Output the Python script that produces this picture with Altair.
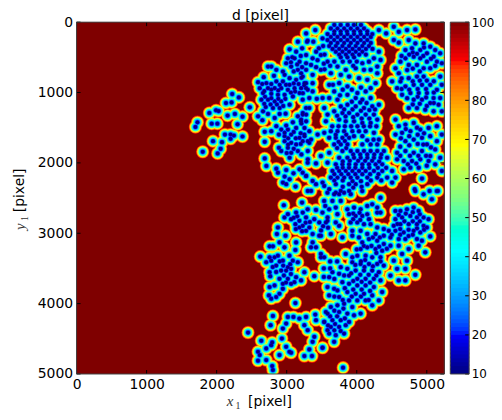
import altair as alt
import pandas as pd

W, H = 370, 354
X_MAX, Y_MAX = 5250, 5000

particle_x = [2222,2317,2133,2213,2473,1896,1991,2028,2156,2260,2369,1726,1697,1929,2010,2298,2118,2199,2246,2199,2369,1948,2076,2057,2014,1801,
3041,3159,3277,3291,3135,3220,3277,3017,3112,2993,3183,3277,3064,3159,3277,2946,2780,2852,2733,3206,2672,2818,2970,3041,3135,3254,2591,2710,2852,2946,3041,2615,2733,2828,2922,3017,3112,3206,3277,2662,2780,2875,2970,3088,3183,2639,2733,2828,2922,3041,3277,2700,2804,2899,3230,2591,2662,2733,2828,2899,2984,3159,3277,2653,
2852,2993,3088,3206,3277,2686,2780,2922,3017,3135,3254,2889,2970,3064,3183,3254,2686,2970,3064,3135,2889,3017,2922,3064,3159,3301,3301,2686,3041,3301,2710,2852,2993,3183,3277,2875,3097,2970,3041,2946,2993,3126,3301,
3408,3380,3299,3512,3488,3370,3347,3488,3583,
3630,3725,3820,3914,4009,4103,3583,3678,3772,3867,3961,4056,4151,4222,3583,3678,3772,3867,3961,4056,4151,3607,3701,3796,3891,3985,4080,4174,3701,3796,3891,3985,4080,3772,3867,3961,
4316,4245,4340,4080,4174,4293,3985,4103,4198,4293,3843,3725,3630,3772,3891,4032,4151,4269,4198,
4316,4420,4529,4600,4718,4837,4529,4600,4742,4837,4955,5049,5120,5191,4789,4907,5002,5097,4695,4695,4813,4907,5002,5144,5215,4624,4553,4600,4742,4860,4955,5049,4505,4624,4742,4860,4955,5191,5215,4576,4695,4813,4931,5049,5144,4647,4766,4884,5002,5097,5191,4813,4931,5049,5168,5215,4742,4860,4978,5097,
4553,4600,4695,4813,4647,4766,4907,5026,5144,5215,4553,4695,4813,4931,5049,5144,5002,5120,5191,4576,4695,4813,4931,5049,4576,4671,4789,4907,5026,4766,4671,4884,5120,5215,4931,4827,5040,5158,
3607,3749,3867,4009,4127,4198,3985,4080,3867,3678,3607,3725,3512,3370,3323,
4316,4222,4103,3985,3867,3772,3678,3796,3891,4009,4127,4245,3749,3843,3961,4080,4198,4293,
3370,3228,3276,3370,3228,3323,3228,3205,3536,3583,3559,3323,3441,3536,3252,3347,3228,
3630,3725,3820,3938,4032,3607,3701,3796,3891,3678,3772,3867,4080,4198,4293,3796,3914,4009,4103,4198,4293,4387,3749,3867,3961,4056,4151,4245,4340,4434,3701,3796,3891,3985,4080,4174,4269,4364,3654,3749,3843,3938,4032,4127,4245,4364,4505,3630,3725,3820,3914,4009,4151,4293,4434,4553,3701,3891,3985,4151,4505,3772,3891,4127,4245,4316,4080,
3323,3299,3418,3488,3276,3370,3418,3512,3347,3536,3607,3678,3228,3607,3583,3749,3914,
2959,3219,3418,3550,3016,3134,3229,3299,3583,2968,3063,3181,3276,3394,3465,3124,3229,3323,3181,3276,3370,3560,2874,2860,2983,3465,3370,3418,3347,3489,3134,2897,2803,2756,2968,3124,2623,2756,2826,2874,3039,2708,2779,2945,3087,3158,2850,3016,3063,2756,2921,2992,3252,3394,2765,2897,3016,3134,3205,2945,3063,3110,2756,2826,2945,2746,2897,2779,2850,3124,2803,3016,3096,3181,3276,3408,3418,2992,2945,3252,3299,2770,3536,3583,3583,2448,2637,2793,2779,2931,2590,2708,2614,2992,3039,3063,3394,3370,3323,2897,3252,3361,3512,2590,2708,2793,2803,
3582,3701,3819,4079,4339,4836,4954,5072,5143,3606,3700,3535,3653,3771,3511,3724,3582,3700,3748,3630,3488,3795,3488,3535,3866,3961,4055,4150,4221,4292,4292,4339,3890,3984,4079,4174,3913,4008,4103,4197,3937,4055,3937,4032,4552,4623,4717,4812,4883,4954,5025,4552,4647,4765,4859,4528,4623,4741,4859,4954,5001,4457,4552,4670,4812,4907,5049,4292,4386,4268,4386,4481,4599,4694,4859,4930,4978,4883,4079,4174,4292,4386,4481,4599,4055,4150,4268,4363,4741,4008,4126,4221,4339,3937,3842,4528,4647,4717,3937,4055,4174,4292,4386,4576,4694,4836,3771,3866,3653,3984,4103,4221,4315,4481,4599,4694,3606,3748,3890,4008,4126,4244,4339,3582,3677,3795,3890,4008,4126,4244,4363,3724,3606,3866,3984,4103,4221,4315,3748,3890,4008,4126,4221,3630,3724,3819,3937,4055,3559,3748,3866,3961,3535,3653,3771,3890,3630,3748,3842,3606,3700,3819,3677,3511,3805]

particle_y = [1022,1069,1150,1140,1211,1291,1253,1263,1328,1305,1343,1423,1489,1442,1442,1451,1597,1597,1611,1658,1625,1691,1705,1800,1865,1842,
386,278,160,278,419,372,467,514,514,584,561,584,631,678,678,702,631,678,631,726,782,763,749,796,820,867,853,867,843,843,890,938,938,938,938,961,938,938,938,1008,1018,1032,1032,1055,1008,1102,1102,1126,1126,1173,1220,1206,1220,1220,1291,1338,1267,1305,1361,1305,1300,1338,1314,1394,
1479,1470,1423,1385,1409,1559,1550,1526,1526,1503,1503,1597,1620,1597,1644,1620,1700,1691,1715,1738,1785,1785,1832,1856,1832,1691,1832,1936,1927,1950,2044,2082,2101,2092,2186,2139,2148,2195,2233,2280,2303,2336,2398,
113,278,264,231,467,514,608,678,561,
90,90,90,90,90,90,170,170,170,170,170,170,170,170,255,255,255,255,255,255,255,339,339,339,339,339,339,339,419,419,419,419,419,500,500,500,
419,514,537,584,561,631,655,678,678,726,678,631,726,749,773,796,820,867,938,
113,160,66,137,113,104,255,292,255,302,302,349,396,443,372,396,443,490,396,514,490,514,561,561,584,561,655,726,608,608,655,655,843,843,796,773,773,773,890,938,914,890,890,890,961,1032,1008,1008,1008,1079,1079,1102,1102,1150,1173,1267,1220,1220,1244,1267,
1385,1479,1456,1432,1573,1550,1526,1503,1479,1597,1597,1691,1668,1644,1620,1691,1738,1809,1927,1856,1832,1856,1832,1903,1950,1974,1974,1950,1974,2068,2092,2068,2021,2115,2223,2374,2398,2398,
890,867,914,1008,985,1079,1079,1102,1032,985,1079,1102,1079,985,1079,
1173,1197,1220,1197,1173,1197,1267,1291,1291,1314,1314,1314,1385,1409,1409,1432,1432,1385,
749,773,867,867,1102,1220,1314,1409,1220,1314,1409,1550,1597,1573,1597,1668,1691,
1550,1550,1550,1550,1550,1644,1644,1644,1644,1738,1738,1738,1738,1738,1738,1832,1832,1832,1832,1832,1832,1832,1927,1927,1927,1927,1927,1927,1927,1927,2021,2021,2021,2021,2021,2021,2021,2021,2115,2115,2115,2115,2115,2115,2115,2115,2115,2209,2209,2209,2209,2209,2209,2209,2209,2209,2303,2303,2303,2303,2280,2398,2398,1550,1573,1668,1620,
1715,1997,2007,1903,2186,2256,2303,2280,2398,2327,2374,2445,2139,1856,1997,2445,2445,
2602,2564,2668,2612,2729,2706,2706,2659,2776,2776,2800,2823,2776,2800,2847,2871,2894,2918,2918,2965,3012,2847,2918,3012,3035,3035,3130,3200,3200,3342,3130,3130,3186,3186,3200,3238,3332,3342,3342,3318,3318,3412,3389,3389,3389,3412,3459,3483,3506,3554,3530,3530,3554,3610,3610,3648,3648,3624,3671,3718,3718,3695,3765,3742,3789,3883,3860,3930,3907,3992,4175,4189,4189,4213,4189,4156,4236,4284,4354,4307,4378,4307,4260,4142,4378,4411,4528,4552,4590,4496,4684,4637,4731,4613,4684,4698,4472,4543,4651,4731,4745,4745,4627,4811,4802,4887,4943,
2423,2423,2423,2400,2494,2400,2447,2517,2400,2659,2635,2541,2541,2541,2706,2729,2823,2847,2894,3012,3035,3059,3294,3342,2659,2635,2659,2612,2588,2635,2706,2706,2729,2753,2753,2800,2847,2847,2871,2871,2965,2965,3035,3059,2682,2682,2659,2635,2682,2776,2800,2800,2776,2753,2776,2894,2871,2871,2871,2894,2918,2965,2965,2988,2965,2988,3045,2918,2941,3012,3035,3059,3082,3082,3082,3106,3271,3177,3130,3082,3106,3153,3177,3177,3224,3200,3224,3247,3224,3318,3318,3342,3342,3342,3294,3389,3294,3389,3412,3436,3436,3436,3459,3506,3506,3591,3483,3506,3554,3530,3530,3530,3554,3601,3671,3671,3624,3577,3601,3648,3648,3648,3671,3765,3789,3695,3718,3742,3742,3765,3836,3813,3883,3836,3860,3860,3883,3954,3907,3954,3954,3954,4024,4048,4024,4001,4048,4142,4119,4119,4142,4166,4260,4236,4236,4260,4331,4331,4307,4425,4448,4425,4543,4627,4910]

# second reading of the dense clusters, as (x, y) pairs
dense_top = [(3680,130),(3770,130),(3860,130),(3960,130),(4050,130),(4150,130),(3630,210),(3725,210),(3820,210),(3915,210),(4010,210),(4105,210),(4200,210),(3630,295),(3725,295),(3820,295),(3915,295),(4010,295),(4105,295),(4200,295),(3655,380),(3750,380),(3845,380),(3940,380),(4035,380),(4130,380),(4225,380),(3750,460),(3845,460),(3940,460),(4035,460),(4130,460),(3680,40),(3770,40),(3870,40),(3960,40),(4060,40),(3680,560),(3800,560),(3900,560),(4000,560),(3620,620),(3950,620),(3460,372),(3520,340),(3420,420),(3540,460),(3440,540),(3530,590),(3420,640),(3540,670)]
dense_middle = [(3660,890),(3800,960),(3930,960),(4060,930),(3760,1040),(3930,1130),(4050,1140),(4140,1150),(3820,1240),(3940,1240),(4060,1260),(4180,1250),(3720,1330),(3840,1340),(3950,1350),(4070,1370),(4180,1370),(4260,1240),(3650,1480),(3740,1480),(3830,1480),(3920,1480),(4010,1480),(4100,1480),(4190,1480),(4280,1480),(3700,1600),(3850,1600),(3960,1620),(3740,1700),(3830,1690),(4150,1680),(4240,1670),(3720,1790),(3850,1790),(3950,1880),(4050,1880),(4150,1880),(4250,1880),(4350,1880),(3800,1980),(3900,1970),(4020,1970),(4120,1970),(4220,1970),(4320,1980),(3720,2070),(3800,2070),(3890,2070),(3980,2070),(4080,2070),(4180,2070),(4300,2070),(4420,2070),(3680,2160),(3780,2160),(3880,2160),(3980,2160),(4080,2160),(4190,2160),(4310,2160),(3680,2250),(3800,2250),(3940,2260),(4060,2260),(4200,2250),(4350,2250),(3800,2340),(3950,2350),(4070,2340)]
dense_right = [(4960,360),(4800,430),(4640,480),(4750,460),(4860,450),(4950,480),(5060,520),(5120,620),(4720,680),(4800,660),(4900,700),(4640,800),(4800,840),(4900,830),(5000,830),(5100,840),(4640,950),(4750,960),(4870,950),(4990,950),(5100,1000),(4720,1080),(4870,1060),(4990,1070),(5100,1150),(4900,1160),(4800,1170),(5000,1190),(4700,1520),(4860,1500),(4960,1580),(4630,1650),(4750,1620),(4870,1600),(4750,1750),(4870,1730),(4620,1770),(4950,1740),(5060,1780),(4760,1900),(4880,1900),(4990,1900),(4620,1900),(4730,2020),(4850,2010),(5000,2040)]
dense_center = [(4150,3010),(4230,3060),(4330,3060),(4100,3180),(4210,3180),(4320,3190),(4430,3220),(4000,3230),(4060,3400),(4120,3380),(4280,3280),(3980,3450),(4110,3480),(4230,3470),(4340,3400),(3920,3570),(4050,3590),(4170,3590),(4280,3600),(3820,3600),(3950,3680),(4070,3690),(4190,3700),(3830,3780),(3950,3800),(4070,3800),(4190,3820),(3930,3900),(4060,3900),(4170,3950),(3680,3900),(3800,3950),(3680,4100),(3810,4070),(3620,4180),(3720,4180),(3830,4210),(3590,4310),(3690,4290),(3680,4380),(3770,4390),(4600,2740),(4700,2720),(4800,2700),(4900,2730),(4580,2870),(4680,2830),(4800,2830),(4900,2830),(4620,2940),(4740,2950),(4860,2930),(4960,2950),(4500,3020),(4620,3020),(4740,3040),(4800,3020),(3950,2720),(4040,2710),(3950,2800),(4050,2810),(4150,2730)]
dense_left = [(3100,2780),(3150,2760),(3270,2850),(3330,2840),(3130,2940),(3220,2970),(2900,3400),(2800,3480),(2950,3460),(3050,3440),(2850,3550),(2960,3600),(3060,3580),(2990,3700),(2650,880),(2780,880),(2900,890),(2990,890),(2680,980),(2780,960),(2880,970),(3060,1000),(2690,1060),(2780,1080),(2880,1090),(2980,1090),(2680,1160),(2770,1170),(2860,1170),(2950,1190),(3120,985),(3080,500),(3200,480),(3060,570),(3150,600),(3220,640),(3100,700),(3210,790),(3100,870),(3170,880),(3210,1440),(3100,1560),(3200,1580),(2970,1570),(3020,1650),(3130,1650),(3020,1740),(3200,1730),(3100,1800),(3000,1860),(3210,1880)]
gap_fill = [(3520,2900),(3590,2920),(3490,2960),(3620,3400),(3720,3400),(3620,3500),(3530,3500),(3530,3620),(3680,3650),(3430,1090),(3250,900),(3300,960),(3230,1010)]

x_ticks = [0, 1000, 2000, 3000, 4000, 5000]
y_ticks = [0, 1000, 2000, 3000, 4000, 5000]
bar_ticks = [10, 20, 30, 40, 50, 60, 70, 80, 90, 100]
levels = [100, 95, 90, 85, 80, 75, 70, 65, 60, 55, 50, 45, 40, 35, 30, 25, 20, 15, 10]
jet_domain = [10, 20, 41.5, 55, 68.5, 90, 100]
jet_range = ["#00007f", "#0000ff", "#00ffff", "#7fff7f", "#ffff00", "#ff0000", "#7f0000"]

n = min(len(particle_x), len(particle_y))
pairs = list(zip(particle_x[:n], particle_y[:n])) + dense_top + dense_middle + dense_right + dense_center + dense_left + gap_fill
points = pd.DataFrame(pairs, columns=["x", "y"])
jet = alt.Scale(domain=jet_domain, range=jet_range)
sx = alt.Scale(domain=[0, X_MAX], nice=False, zero=False)
sy = alt.Scale(domain=[0, Y_MAX], reverse=True, nice=False, zero=False)
FONT = "DejaVu Sans"
SERIF = "Liberation Serif"
x_axis = alt.Axis(values=x_ticks, grid=False, ticks=False, domain=False, title=None, format="d",
                  labelFontSize=14, labelFont=FONT, labelColor="black", labelPadding=4, labelFlush=False,
                  labelOverlap=False)
y_axis = alt.Axis(values=y_ticks, grid=False, ticks=False, domain=False, title=None, format="d",
                  labelFontSize=14, labelFont=FONT, labelColor="black", labelPadding=4, labelFlush=False,
                  labelOverlap=False)


def radius_px(d):
    return 1.5 + 0.0633 * (d - 10)


layers = [
    alt.Chart(points).mark_rect(color="#7f0000").encode(
        x=alt.value(0), x2=alt.value(W), y=alt.value(0), y2=alt.value(H))
]
for d in levels:
    diameter = 2 * radius_px(d)
    layers.append(alt.Chart(points).transform_calculate(level=str(d)).mark_circle(clip=True, opacity=1).encode(
        x=alt.X("x:Q", scale=sx, axis=x_axis),
        y=alt.Y("y:Q", scale=sy, axis=y_axis),
        size=alt.value(diameter ** 2),
        color=alt.Color("level:Q", scale=jet, legend=None),
    ))

xt = pd.DataFrame({"v": x_ticks})
yt = pd.DataFrame({"v": y_ticks})
tick_color = "black"
layers += [
    alt.Chart(xt).mark_rule(color=tick_color).encode(x=alt.X("v:Q", scale=sx, axis=x_axis), y=alt.value(H), y2=alt.value(H - 4)),
    alt.Chart(xt).mark_rule(color=tick_color).encode(x=alt.X("v:Q", scale=sx, axis=x_axis), y=alt.value(0), y2=alt.value(4)),
    alt.Chart(yt).mark_rule(color=tick_color).encode(y=alt.Y("v:Q", scale=sy, axis=y_axis), x=alt.value(0), x2=alt.value(4)),
    alt.Chart(yt).mark_rule(color=tick_color).encode(y=alt.Y("v:Q", scale=sy, axis=y_axis), x=alt.value(W), x2=alt.value(W - 4)),
    alt.Chart(xt.head(1)).mark_rect(filled=False, stroke="#444444", strokeWidth=1).encode(
        x=alt.value(0), x2=alt.value(W), y=alt.value(0), y2=alt.value(H)),
]


def label(text, x, y, font=FONT, size=14, style="normal", angle=0, align="left", color="black"):
    return alt.Chart(xt.head(1)).mark_text(
        text=text, font=font, fontSize=size, fontStyle=style, angle=angle, align=align,
        baseline="alphabetic", color=color).encode(x=alt.value(x), y=alt.value(y))


layers += [
    label("d [pixel]", W / 2, -2, size=14, align="center"),
    label("x", 151, H + 32, font=SERIF, size=15, style="italic", color="#333333"),
    label("1", 160, H + 35, font=SERIF, size=10, color="#333333"),
    label("[pixel]", 172.6, H + 32, size=14),
    label("y", -52, 209, font=SERIF, size=15, style="italic", angle=270, color="#333333"),
    label("1", -49, 200, font=SERIF, size=10, angle=270, color="#333333"),
    label("[pixel]", -52.4, 191.3, size=14, angle=270),
]

main = alt.layer(*layers).properties(width=W, height=H)

bar_lo = list(range(10, 100))
bar = pd.DataFrame({"lo": bar_lo})
bar["hi"] = (bar["lo"] + 1.5).clip(upper=100)
bar["c"] = bar["lo"] + 0.5
by = alt.Scale(domain=[10, 100], nice=False, zero=False)
bt = pd.DataFrame({"v": bar_ticks})
bar_axis = alt.Axis(orient="right", values=bar_ticks, ticks=False, domain=False, grid=False, title=None,
                    labelFontSize=12, labelFont=FONT, labelColor="black", labelPadding=2, labelOverlap=False,
                    labelFlush=False)
colorbar = alt.layer(
    alt.Chart(bar).mark_rect().encode(
        x=alt.value(0), x2=alt.value(19),
        y=alt.Y("lo:Q", scale=by, axis=bar_axis),
        y2="hi:Q",
        color=alt.Color("c:Q", scale=jet, legend=None)),
    alt.Chart(bt).mark_rule(color=tick_color).encode(y=alt.Y("v:Q", scale=by, axis=bar_axis), x=alt.value(19), x2=alt.value(15)),
    alt.Chart(xt.head(1)).mark_rect(filled=False, stroke="#444444", strokeWidth=1).encode(
        x=alt.value(0), x2=alt.value(19), y=alt.value(0), y2=alt.value(H)),
).properties(width=19, height=H)

chart = alt.hconcat(main, colorbar, spacing=4).resolve_scale(color="independent").configure_view(
    stroke=None).properties(padding={"left": 5, "top": 0, "right": 0, "bottom": 0})

chart.save("out.html", embed_options={"renderer": "svg", "actions": False})
